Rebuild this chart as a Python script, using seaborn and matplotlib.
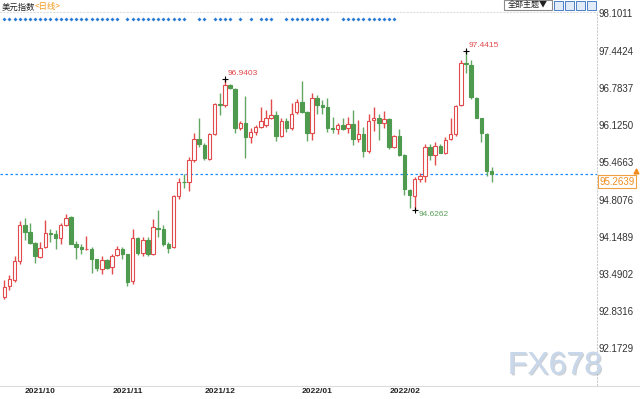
import matplotlib
matplotlib.use('Agg')
import matplotlib.pyplot as plt
import matplotlib.patheffects as pe
from matplotlib.patches import Rectangle
from matplotlib.lines import Line2D
import pandas as pd
import seaborn as sns

sns.set_style('white')
plt.rcParams['font.family'] = ['Liberation Sans', 'Noto Sans CJK SC', 'DejaVu Sans']
CJK = ['Noto Sans CJK SC', 'DejaVu Sans']
NARROW = ['Liberation Sans Narrow', 'Liberation Sans', 'DejaVu Sans']

# daily candles, US dollar index
opens = [93.09, 93.27, 93.38, 93.72, 94.35, 94.24, 94.04, 93.79, 93.96, 94.22,
         94.19, 94.12, 94.35, 94.50, 94.02, 93.96, 93.93, 93.93, 93.75, 93.58,
         93.74, 93.61, 93.82, 93.93, 93.84, 93.36, 94.12, 93.86, 94.09, 93.84,
         94.31, 94.28, 94.03, 93.96, 94.87, 95.12, 95.11, 95.50, 95.88, 95.77,
         95.53, 95.97, 96.50, 96.49, 96.84, 96.76, 96.07, 96.16, 95.92, 96.01,
         96.10, 96.12, 96.26, 96.30, 95.93, 96.20, 96.07, 96.35, 96.53, 96.36,
         95.98, 96.60, 96.48, 96.45, 96.07, 96.05, 96.12, 96.07, 96.14, 95.88,
         95.97, 95.66, 96.21, 96.26, 96.16, 96.23, 95.73, 95.93, 95.60, 94.98,
         94.87, 95.18, 95.23, 95.73, 95.60, 95.76, 95.63, 95.88, 95.97, 96.48,
         97.22, 97.19, 96.61, 96.25, 95.97, 95.31]
highs = [93.38, 93.47, 93.81, 94.43, 94.49, 94.39, 94.06, 94.05, 94.45, 94.28,
         94.27, 94.40, 94.55, 94.51, 94.08, 94.02, 94.16, 93.96, 93.76, 93.80,
         93.75, 93.84, 93.99, 93.97, 93.85, 94.28, 94.14, 94.15, 94.15, 94.46,
         94.62, 94.36, 94.06, 94.89, 95.19, 95.26, 95.56, 95.98, 96.26, 95.81,
         95.99, 96.52, 96.69, 96.9403, 96.86, 96.78, 96.20, 96.64, 96.07, 96.13,
         96.45, 96.39, 96.58, 96.38, 96.25, 96.25, 96.51, 96.58, 96.91, 96.37,
         96.69, 96.66, 96.57, 96.60, 96.27, 96.17, 96.25, 96.27, 96.39, 96.22,
         96.10, 96.32, 96.45, 96.33, 96.38, 96.26, 95.95, 96.05, 95.61, 94.99,
         95.21, 95.28, 95.80, 95.80, 95.83, 95.80, 95.91, 96.26, 96.48, 97.28,
         97.4415, 97.28, 96.63, 96.26, 95.98, 95.39]
lows = [93.04, 93.20, 93.35, 93.66, 94.09, 94.02, 93.68, 93.77, 93.95, 94.06,
        93.93, 94.02, 94.34, 94.02, 93.75, 93.84, 93.92, 93.50, 93.55, 93.49,
        93.57, 93.49, 93.81, 93.75, 93.27, 93.31, 93.83, 93.81, 93.81, 93.82,
        94.15, 93.99, 93.87, 93.95, 94.82, 95.01, 94.96, 95.48, 95.74, 95.51,
        95.51, 95.95, 96.30, 96.44, 96.76, 95.98, 96.04, 95.54, 95.81, 95.95,
        96.07, 96.10, 96.23, 95.85, 95.92, 96.01, 96.04, 96.33, 96.34, 95.84,
        95.86, 96.33, 96.33, 96.01, 95.99, 95.96, 96.04, 95.99, 95.77, 95.82,
        95.56, 95.64, 96.03, 95.86, 96.08, 95.70, 95.72, 95.57, 94.89, 94.65,
        94.6262, 95.12, 95.12, 95.51, 95.42, 95.63, 95.61, 95.86, 95.93, 96.46,
        97.05, 96.58, 96.25, 95.83, 95.22, 95.12]
closes = [93.26, 93.40, 93.72, 94.35, 94.24, 94.04, 93.80, 93.95, 94.21, 94.19,
          94.12, 94.35, 94.49, 94.03, 93.97, 93.93, 93.94, 93.76, 93.60, 93.73,
          93.60, 93.81, 93.93, 93.84, 93.35, 94.12, 93.86, 94.09, 93.84, 94.32,
          94.28, 94.03, 93.95, 94.87, 95.11, 95.11, 95.50, 95.88, 95.79, 95.54,
          95.97, 96.50, 96.49, 96.84, 96.78, 96.07, 96.17, 95.92, 96.01, 96.10,
          96.20, 96.26, 96.30, 95.93, 96.20, 96.07, 96.33, 96.53, 96.36, 95.98,
          96.61, 96.49, 96.45, 96.08, 96.05, 96.12, 96.06, 96.14, 95.88, 95.97,
          95.66, 96.20, 96.26, 96.16, 96.23, 95.73, 95.93, 95.60, 94.99, 94.88,
          95.17, 95.22, 95.73, 95.60, 95.76, 95.64, 95.87, 95.97, 96.46, 97.22,
          97.20, 96.62, 96.26, 95.98, 95.32, 95.2639]

y_ticks = [98.1011, 97.4424, 96.7837, 96.1250, 95.4663, 94.8076, 94.1489, 93.4902, 92.8316, 92.1729]
y_labels = ['98.1011', '97.4424', '96.7837', '96.1250', '95.4663', '94.8076', '94.1489', '93.4902', '92.8316', '92.1729']
month_labels = ['2021/10', '2021/11', '2021/12', '2022/01', '2022/02']
month_pos = [4.0, 21.2, 39.1, 58.0, 75.2]
event_days = (list(range(0, 23)) + list(range(24, 36)) + [38, 39, 41, 42, 43, 44, 46, 48, 50, 51, 52]
              + list(range(55, 64)) + list(range(66, 77)))
last_price = 95.2639
marks = [(43, 96.9403, '#e0484d', 'high'), (90, 97.4415, '#e0484d', 'high'), (80, 94.6262, '#5aa05a', 'low')]

df = pd.DataFrame({'open': opens, 'high': highs, 'low': lows, 'close': closes})
df['day'] = range(len(df))
df['up'] = df['close'] >= df['open']

RED = '#e24b4b'
GREEN = '#4e9a4e'

fig = plt.figure(figsize=(6.4, 3.99), dpi=100)
ax = fig.add_axes([0, 1 - 385 / 399, 597 / 640, 373 / 399])

# wicks
ax.vlines(df['day'], df['low'], df['high'],
          colors=[RED if u else '#62a862' for u in df['up']], linewidth=1, zorder=2)
# bodies
body_h = (df['close'] - df['open']).abs().clip(lower=0.004)
body_b = df[['open', 'close']].min(axis=1)
ax.bar(df['day'], body_h, bottom=body_b, width=0.68,
       facecolor=['white' if u else GREEN for u in df['up']],
       edgecolor=[RED if u else GREEN for u in df['up']], linewidth=0.8, zorder=3)

# event markers along the top
sns.scatterplot(x=event_days, y=[0.981] * len(event_days), ax=ax, marker='D', s=4,
                color='#2a7bd6', linewidth=0, transform=ax.get_xaxis_transform(),
                legend=False, clip_on=False, zorder=4)

# last price line and label
ax.axhline(last_price, color='#1a8cff', lw=0.9, ls=(0, (2, 2)), zorder=1)
ax.annotate(f'{last_price:.4f}', xy=(1, last_price), xycoords=ax.get_yaxis_transform(),
            xytext=(1.8, -2.2), textcoords='offset points', ha='left', va='top',
            fontsize=7, color='#f08c1e', annotation_clip=False,
            bbox=dict(boxstyle='square,pad=0.15', fc='white', ec='#f0a040', lw=0.8))
fig.add_artist(Line2D([636 / 640], [1 - 171 / 399], marker='^', ms=3.5, color='#f08c1e'))

# high / low marks
for d, v, c, kind in marks:
    ax.plot(d, v, marker='+', color='black', ms=4, mew=0.8, zorder=5)
    if kind == 'high':
        ax.annotate(f'{v:.4f}', (d, v), xytext=(1.8, 1.2), textcoords='offset points',
                    ha='left', va='bottom', fontsize=6, color=c)
    else:
        ax.annotate(f'{v:.4f}', (d, v), xytext=(2.5, -1), textcoords='offset points',
                    ha='left', va='top', fontsize=6, color=c)

ax.set_xlim(-0.84, 115.54)
ax.set_ylim(91.5255, 98.1276)

ax.yaxis.tick_right()
ax.set_yticks(y_ticks, labels=y_labels)
ax.tick_params(axis='y', length=0, pad=1.2, labelsize=7, labelcolor='#333333')
ax.set_xticks(month_pos)
ax.set_xticklabels(month_labels, ha='left', fontweight='bold', fontsize=6, family=NARROW, color='#222222')
ax.tick_params(axis='x', length=0, pad=2.5)

for s in ['left', 'bottom']:
    ax.spines[s].set_visible(False)
ax.spines['top'].set_color('#dddddd')
ax.spines['top'].set_linestyle((0, (1, 2)))
ax.spines['right'].set_color('#cccccc')
ax.spines['right'].set_linestyle((0, (1, 2)))
ax.spines['top'].set_linewidth(0.8)
ax.spines['right'].set_linewidth(0.8)
fig.add_artist(Line2D([0, 1], [1 - 386 / 399] * 2, color='#dcdcdc', lw=0.8))

# title
fig.text(2 / 640, 1 - 7 / 399, '美元指数', fontsize=6, family=CJK, va='center', ha='left', color='#222222')
fig.text(35 / 640, 1 - 7 / 399, '<日线>', fontsize=6, family=CJK, va='center', ha='left', color='#f39a1e')

# toolbar
fig.add_artist(Rectangle((504 / 640, 1 - 10 / 399), 48 / 640, 10 / 399, transform=fig.transFigure,
                         fc='white', ec='#8a8a8a', lw=0.8))
fig.text(528 / 640, 1 - 5.5 / 399, '全部主题▼', fontsize=5.8, family=CJK, va='center', ha='center', color='#222222')
for x0 in [554, 565, 576, 587]:
    fig.add_artist(Rectangle((x0 / 640, 1 - 9.5 / 399), 8.5 / 640, 8.5 / 399, transform=fig.transFigure,
                             fc='#e2ecf8', ec='#4a7fc8', lw=0.7))

# watermark
fig.text(555 / 640, 1 - 366 / 399, 'FX678', fontsize=23, color='#c9d7ea', ha='center', va='center',
         family=NARROW,
         path_effects=[pe.withSimplePatchShadow(offset=(1, -1), shadow_rgbFace='#9aa4b0', alpha=0.5), pe.Normal()])

fig.savefig('out.png', dpi=100)
